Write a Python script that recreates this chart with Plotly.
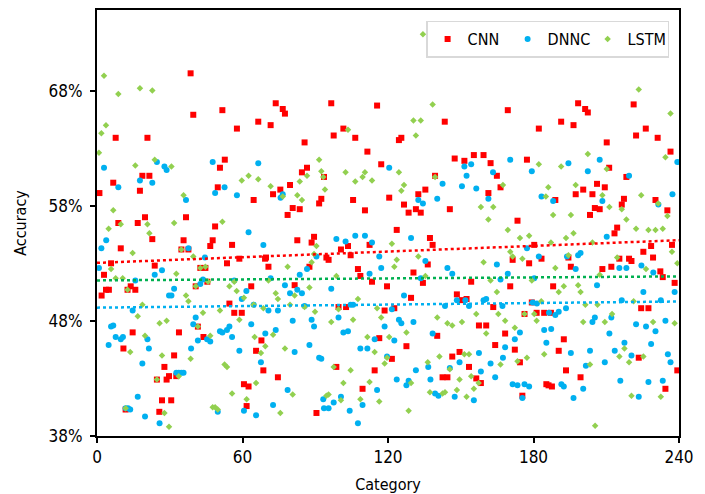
import numpy as np
import plotly.graph_objects as go

# ---- data (x = category, y = accuracy in %) ----
cnn_x = [1, 7.7, 20.8, 18.7, 21.6, 17.7, 6.7, 8.8, 16.8, 19.8, 9.8, 5.8, 2.9, 3.7, 4.9, 1.9, 13.9, 12.6, 15.8, 14.7, 10.9, 11.8,
         38.6, 39.7, 36.7, 22.8, 35.7, 34.8, 37.7, 23.8, 42.6, 40.7, 41.6, 33.8, 43.9, 31.8, 27.8, 29.7, 28.7, 32.7, 24.7, 26.8, 30.6, 25.7, 44.7, 45.5,
         51.7, 57.7, 66.5, 52.7, 50.7, 49.8, 64.6, 48.7, 47.7, 46.7, 55.7, 58.7, 69.3, 53.6, 63.6, 54.6, 56.6, 59.7, 67.8, 65.6, 68.6, 60.6, 62.5, 61.7,
         73.7, 76.6, 77.5, 71.6, 85.6, 86.6, 84.5, 79.6, 75.6, 72.6, 92.5, 91.6, 80.7, 83.6, 78.6, 89.5, 82.6, 88.5, 69.7, 70.7, 87.6, 81.5, 74.6, 90.5,
         96.6, 115.5, 101.6, 97.6, 106.5, 111.5, 117.2, 93.6, 105.6, 110.5, 103.5, 112.4, 100.6, 104.6, 94.6, 95.5, 107.6, 108.6, 113.4, 99.6, 102.7, 116.4, 98.7, 114.5, 109.5,
         124.5, 125.5, 139.4, 135.4, 132.5, 120.5, 126.6, 131.5, 128.5, 133.5, 123.6, 137.3, 138.4, 136.4, 130.5, 134.4, 119.6, 129.5, 118.6, 122.6, 140.3, 127.6, 121.6,
         143.4, 147.5, 151.5, 155.4, 159.4, 162.3, 164.9, 161.4, 145.5, 154.3, 148.4, 150.5, 152.4, 163.4, 157.5, 160.5, 164.2, 149.5, 146.5, 153.4, 156.4, 158.3, 142.5, 144.5,
         169.4, 182.2, 177.3, 166.4, 189.0, 173.4, 180.3, 171.4, 183.3, 178.2, 188.1, 170.4, 179.3, 176.3, 181.3, 184.4, 187.2, 168.3, 172.3, 174.4, 185.3, 186.2, 187.6, 175.4,
         198.4, 201.3, 202.4, 191.4, 196.5, 210.2, 211.2, 206.2, 209.4, 200.5, 197.4, 204.3, 205.3, 207.3, 203.3, 194.4, 195.4, 208.4, 212.1, 192.5, 190.4, 193.4, 199.4,
         221.3, 226.3, 222.3, 231.2, 236.5, 218.3, 217.3, 216.4, 230.3, 235.2, 214.5, 213.4, 237.1, 228.5, 225.3, 229.3, 215.4, 219.4, 220.4, 232.3, 233.3, 238.2, 224.4, 227.4, 223.4, 239.3, 234.4]
cnn_y = [59.1, 63.9, 63.9, 60.6, 60.6, 59.3, 60.0, 56.5, 56.5, 57.0, 54.3, 53.0, 52.0, 50.7, 50.7, 50.2, 51.0, 50.7, 50.7, 47.0, 45.6, 40.3,
         69.5, 65.9, 57.0, 55.1, 55.0, 54.2, 54.2, 52.8, 52.6, 51.0, 47.5, 47.0, 46.6, 45.0, 44.0, 43.2, 42.9, 43.2, 42.9, 41.1, 41.1, 40.1, 52.6, 51.4,
         66.3, 64.7, 65.3, 62.0, 61.3, 59.6, 58.5, 56.2, 55.0, 54.5, 54.6, 53.4, 53.4, 53.0, 51.0, 49.5, 48.7, 48.7, 46.3, 45.4, 43.7, 42.5, 42.3, 40.6,
         66.9, 66.4, 66.0, 65.0, 63.5, 61.3, 60.9, 59.8, 59.4, 59.0, 58.6, 58.2, 57.8, 57.7, 57.2, 55.3, 55.0, 54.8, 53.5, 52.7, 52.7, 51.1, 43.1, 40.0,
         66.9, 66.7, 64.7, 64.1, 63.9, 62.7, 61.6, 60.5, 58.5, 57.6, 54.5, 54.6, 54.2, 53.7, 53.5, 53.3, 52.5, 51.9, 51.4, 49.2, 49.2, 46.5, 44.0, 43.7, 42.1,
         63.7, 63.9, 60.6, 59.4, 59.0, 58.7, 58.1, 57.7, 57.4, 57.4, 55.9, 55.2, 54.6, 52.9, 52.2, 51.3, 51.0, 50.0, 48.9, 49.1, 46.7, 45.8, 44.7,
         65.3, 62.1, 61.9, 62.4, 62.4, 61.7, 60.6, 59.1, 57.7, 51.4, 50.3, 49.8, 49.9, 49.2, 47.6, 47.6, 45.9, 45.3, 44.9, 44.0, 43.0, 42.6, 43.1, 43.1,
         66.3, 64.7, 62.0, 59.6, 58.5, 56.7, 54.6, 53.3, 53.4, 53.0, 51.0, 51.0, 49.6, 48.6, 48.7, 48.7, 48.7, 46.9, 45.5, 44.4, 42.5, 42.4, 42.3, 41.5,
         66.9, 66.4, 66.1, 65.3, 65.0, 63.5, 61.3, 59.9, 59.6, 59.4, 59.0, 59.0, 57.8, 57.7, 57.2, 53.5, 52.7, 52.5, 52.7, 46.4, 45.4, 43.7, 43.1,
         66.8, 64.7, 64.1, 63.9, 62.7, 60.5, 58.6, 58.1, 58.5, 57.6, 56.1, 55.6, 54.6, 54.5, 54.0, 53.5, 53.4, 53.4, 53.2, 52.3, 51.8, 51.3, 49.1, 49.1, 44.8, 43.7, 42.1]

dnnc_x = [2.9, 17.7, 8.8, 3.8, 1.8, 0.8, 15.8, 14.7, 5.8, 6.7, 7.7, 9.8, 10.7, 4.8, 20.8, 21.4, 18.7, 16.8, 19.8, 11.8, 12.8, 13.7,
          24.7, 27.8, 28.7, 22.8, 36.7, 37.7, 44.5, 26.8, 23.8, 43.7, 31.8, 42.6, 29.7, 30.7, 40.7, 39.7, 41.6, 45.4, 38.8, 32.7, 33.7, 34.8, 35.7, 25.8,
          47.7, 66.5, 52.6, 48.7, 57.7, 62.5, 68.6, 56.6, 61.6, 59.7, 64.6, 63.6, 50.7, 51.7, 53.6, 54.6, 55.7, 46.7, 69.4, 58.7, 67.6, 49.8, 60.6, 65.6,
          76.6, 75.7, 90.5, 86.6, 83.6, 71.6, 77.5, 79.6, 82.6, 84.5, 85.6, 70.7, 74.6, 88.5, 80.7, 89.5, 73.7, 87.6, 81.5, 91.6, 92.5, 78.6, 72.6, 93.3,
          98.7, 102.5, 106.5, 110.5, 113.4, 116.4, 117.2, 112.4, 96.6, 105.6, 104.6, 99.6, 101.6, 103.5, 114.5, 108.6, 111.5, 100.6, 97.6, 104.2, 109.5, 115.5, 93.6, 95.5, 107.6,
          120.5, 132.5, 134.4, 140.3, 129.5, 135.4, 133.5, 126.6, 121.6, 124.5, 125.5, 130.5, 118.6, 122.6, 138.4, 119.6, 131.5, 136.6, 123.6, 128.5, 127.6, 137.5, 139.4, 140.8,
          151.5, 154.3, 163.3, 152.4, 142.5, 150.5, 156.4, 161.4, 144.5, 146.5, 164.9, 160.5, 148.4, 153.4, 143.5, 151.9, 159.4, 162.3, 157.5, 149.5, 145.5, 158.3, 164.2, 147.5, 155.4,
          170.4, 179.3, 183.3, 188.1, 177.3, 182.2, 169.4, 166.4, 180.3, 179.7, 181.4, 167.2, 186.4, 189.0, 187.3, 184.4, 174.4, 172.3, 185.3, 168.3, 167.4, 171.4, 173.4, 176.3, 178.2, 175.4,
          194.4, 207.3, 202.4, 208.4, 210.2, 198.4, 199.4, 197.4, 193.8, 206.2, 193.4, 190.4, 205.3, 204.3, 212.1, 211.3, 195.4, 203.3, 201.6, 209.4, 191.5, 192.5, 200.5, 196.5,
          219.4, 239.3, 237.3, 231.5, 224.5, 218.3, 215.4, 229.4, 225.3, 238.2, 216.4, 232.5, 222.3, 226.4, 234.4, 230.3, 217.5, 213.5, 228.5, 235.4, 220.4, 236.5, 215.8, 227.4, 233.3, 223.4]
dnnc_y = [61.3, 60.2, 59.6, 55.0, 54.3, 52.6, 51.5, 48.9, 47.5, 47.6, 46.6, 46.4, 46.6, 45.9, 46.4, 45.6, 44.3, 41.4, 39.7, 40.4, 40.4, 40.3,
          61.8, 61.4, 61.1, 60.0, 58.5, 54.3, 53.5, 52.4, 52.0, 51.6, 50.8, 51.2, 50.2, 50.2, 48.3, 47.7, 46.3, 46.4, 45.6, 43.5, 43.5, 43.5, 43.5, 39.1,
          61.8, 61.7, 59.6, 59.1, 58.9, 55.7, 54.6, 51.5, 50.6, 49.9, 49.4, 47.7, 47.1, 47.0, 47.2, 47.5, 46.6, 46.2, 46.9, 45.4, 44.4, 40.1, 40.2, 39.8,
          59.0, 58.7, 53.6, 52.5, 52.0, 51.7, 51.1, 50.4, 50.7, 50.4, 49.3, 48.9, 48.9, 48.1, 48.0, 47.5, 47.2, 45.9, 45.3, 44.8, 44.7, 42.0, 40.7, 41.2,
          55.1, 54.9, 55.4, 55.4, 54.8, 53.6, 52.6, 52.1, 50.8, 49.4, 49.4, 48.3, 47.0, 47.1, 46.4, 45.6, 45.6, 41.4, 40.9, 40.2, 40.7, 42.0, 40.4, 40.4, 39.1,
          61.3, 58.5, 58.2, 58.6, 55.2, 53.2, 51.7, 50.2, 49.0, 48.1, 47.8, 47.9, 47.5, 46.3, 46.9, 44.9, 43.7, 44.0, 42.9, 42.8, 42.4, 42.9, 41.7, 41.5,
          61.4, 61.6, 60.9, 60.6, 59.9, 59.7, 59.5, 58.6, 52.6, 52.1, 52.9, 49.9, 49.8, 49.3, 49.3, 49.8, 49.8, 44.3, 45.2, 44.4, 43.9, 43.6, 43.1, 41.4, 41.1,
          62.0, 61.0, 58.8, 58.4, 54.3, 53.6, 52.1, 51.6, 51.7, 49.6, 49.5, 49.3, 48.7, 48.5, 47.3, 47.2, 47.0, 46.4, 46.1, 45.7, 44.8, 42.5, 42.4, 42.5, 42.3, 41.3,
          61.7, 62.0, 61.0, 58.4, 55.3, 53.7, 53.9, 52.5, 53.6, 51.1, 49.1, 48.8, 48.3, 47.9, 48.3, 46.9, 45.2, 45.4, 44.1, 44.4, 42.5, 42.3, 42.1, 41.3,
          60.6, 61.8, 59.0, 58.1, 52.8, 52.6, 52.6, 52.2, 50.5, 50.5, 49.8, 49.8, 47.7, 47.5, 48.0, 47.1, 46.1, 45.4, 46.0, 45.1, 45.0, 44.4, 42.8, 42.7, 42.8, 41.4]

lstm_x = [2.9, 17.7, 8.8, 3.7, 1.8, 0.8, 15.8, 6.7, 4.8, 9.8, 20.8, 21.6, 14.7, 5.8, 7.7, 10.6, 12.6, 18.7, 16.8, 19.8, 13.7, 11.8,
          22.8, 23.8, 30.7, 35.7, 31.8, 34.8, 39.7, 42.6, 44.7, 45.8, 32.7, 40.7, 36.7, 37.7, 43.7, 25.8, 28.7, 41.6, 26.8, 38.6, 33.7, 24.7, 27.8, 29.7,
          62.5, 59.7, 66.5, 51.7, 54.6, 56.6, 57.6, 60.6, 64.6, 68.6, 50.7, 58.7, 46.7, 65.0, 69.4, 67.6, 52.6, 53.6, 65.6, 55.7, 61.7, 47.7, 48.7, 49.8,
          91.6, 92.5, 93.3, 86.6, 83.6, 71.6, 94.0, 76.6, 82.6, 84.5, 90.5, 89.5, 88.5, 78.6, 70.7, 73.7, 81.5, 74.6, 87.6, 79.6, 85.6, 89.9, 72.6, 77.5, 80.7, 75.6,
          103.5, 110.5, 102.5, 109.5, 106.5, 113.4, 98.7, 107.6, 99.6, 115.5, 117.2, 96.6, 105.6, 111.5, 114.5, 97.6, 104.6, 112.4, 101.6, 95.5, 94.6, 100.6, 108.6, 116.4,
          134.4, 138.4, 130.5, 133.5, 131.5, 124.5, 126.6, 125.5, 139.4, 121.6, 132.5, 123.6, 122.6, 135.4, 140.3, 127.6, 120.5, 119.6, 118.6, 141.2, 136.4, 129.5, 137.3, 128.5,
          158.3, 163.4, 161.4, 159.4, 162.3, 164.9, 156.4, 144.5, 146.5, 150.5, 160.5, 151.5, 153.4, 145.5, 154.3, 157.4, 155.4, 149.5, 148.4, 142.5, 143.5, 152.4,
          182.2, 186.1, 185.1, 167.4, 188.1, 169.4, 178.2, 174.4, 187.2, 170.4, 171.4, 175.4, 189.0, 179.3, 176.3, 180.3, 165.5, 181.3, 183.2, 168.3, 172.3, 184.4, 177.3, 173.4, 166.4,
          202.4, 210.2, 191.4, 197.4, 208.4, 211.3, 195.4, 196.5, 193.4, 204.3, 194.4, 207.3, 192.5, 198.4, 190.4, 199.4, 201.4, 206.4, 212.4, 200.5, 209.4, 203.3, 205.4,
          223.4, 236.5, 234.4, 224.4, 216.4, 231.4, 235.2, 218.3, 222.3, 227.4, 230.3, 233.3, 237.1, 239.3, 214.5, 226.4, 221.3, 229.3, 238.2, 217.5, 225.3, 215.4, 219.4, 220.4, 232.5]
lstm_y = [69.3, 68.2, 67.7, 65.0, 64.3, 62.6, 61.5, 57.6, 56.0, 56.4, 56.4, 55.6, 53.9, 52.5, 51.7, 51.7, 50.7, 49.4, 48.4, 46.7, 45.3, 40.4,
          68.0, 62.0, 61.4, 58.9, 56.5, 54.2, 53.6, 52.6, 52.7, 51.4, 52.1, 51.0, 50.2, 49.7, 48.7, 47.8, 48.0, 47.5, 45.0, 44.7, 43.2, 42.9, 40.0, 38.8,
          60.6, 60.2, 60.3, 56.6, 51.0, 51.4, 50.6, 50.0, 49.4, 49.1, 48.9, 48.1, 46.7, 46.6, 45.8, 45.2, 44.2, 44.0, 42.6, 41.7, 41.2, 40.5, 40.5, 40.3,
          62.0, 61.0, 60.5, 60.6, 60.1, 59.7, 59.4, 58.8, 58.9, 58.5, 54.5, 53.8, 53.1, 52.7, 51.5, 50.4, 50.2, 49.9, 50.9, 49.4, 49.2, 48.8, 46.8, 45.6, 41.6, 40.0,
          64.6, 60.9, 60.9, 60.5, 60.1, 60.2, 51.9, 49.9, 49.0, 49.1, 48.3, 47.9, 48.1, 46.6, 45.3, 44.0, 43.7, 42.7, 42.6, 41.6, 41.5, 41.1, 41.2, 41.0,
          72.9, 66.8, 65.4, 65.4, 64.1, 60.9, 59.8, 59.3, 60.5, 54.7, 53.6, 53.3, 52.7, 51.9, 48.3, 47.0, 46.6, 44.8, 44.3, 44.9, 44.4, 42.6, 41.8, 40.2,
          57.9, 57.9, 56.8, 53.1, 51.5, 50.5, 48.6, 47.8, 47.6, 47.9, 46.9, 45.1, 45.1, 43.8, 43.2, 42.6, 42.1, 42.9, 42.0, 41.7, 41.8, 41.4,
          61.6, 59.6, 58.8, 59.8, 57.2, 55.9, 55.4, 55.2, 54.8, 54.0, 53.6, 53.4, 52.6, 51.5, 48.6, 48.6, 48.6, 48.0, 49.7, 48.0, 47.4, 45.1, 44.8, 44.5, 44.2,
          62.5, 61.2, 61.4, 59.8, 58.9, 57.9, 57.2, 55.6, 55.2, 54.8, 53.7, 52.0, 51.0, 51.1, 50.5, 50.5, 49.4, 49.4, 48.6, 47.9, 47.9, 44.2, 38.9,
          68.1, 66.0, 62.2, 58.9, 57.7, 58.2, 57.1, 56.8, 56.0, 55.9, 55.9, 56.0, 54.0, 53.0, 53.5, 52.5, 49.7, 47.9, 47.8, 45.6, 44.9, 44.9, 44.4, 41.5, 41.4]

series_names = ["CNN", "DNNC", "LSTM"]
x_ticks = [0, 60, 120, 180, 240]
y_ticks = [38, 48, 58, 68]

FONT = "DejaVu Sans Condensed, DejaVu Sans, sans-serif"
colors = {"CNN": "#FF0000", "DNNC": "#00B0F0", "LSTM": "#92D050"}
trend_colors = {"CNN": "#FF0000", "DNNC": "#00B0F0", "LSTM": "#00B050"}
symbols = {"CNN": "square", "DNNC": "circle", "LSTM": "diamond"}
sizes = {"CNN": 6, "DNNC": 6, "LSTM": 5}

data = {"CNN": (cnn_x, cnn_y), "DNNC": (dnnc_x, dnnc_y), "LSTM": (lstm_x, lstm_y)}

fig = go.Figure()
for name in series_names:
    xs, ys = data[name]
    fig.add_trace(go.Scatter(
        x=xs, y=ys, mode="markers", name=name,
        marker=dict(symbol=symbols[name], size=sizes[name], color=colors[name], line=dict(width=0)),
    ))

# linear trend lines computed from the data
for name in series_names:
    xs, ys = data[name]
    k, b = np.polyfit(np.array(xs), np.array(ys), 1)
    tx = np.array([0, 240])
    fig.add_trace(go.Scatter(
        x=tx, y=k * tx + b, mode="lines", showlegend=False, hoverinfo="skip",
        line=dict(color=trend_colors[name], width=2.5, dash="dot"),
    ))

fig.update_layout(
    width=705, height=494,
    margin=dict(l=97, r=26, t=10, b=58),
    paper_bgcolor="white", plot_bgcolor="white",
    font=dict(family=FONT, size=17, color="black"),
    showlegend=True,
    legend=dict(
        orientation="h", x=0.983, xanchor="right", y=0.975, yanchor="top",
        bgcolor="white", bordercolor="#D9D9D9", borderwidth=1.5,
        font=dict(family=FONT, size=16, color="black"),
        entrywidth=35, itemwidth=30, tracegroupgap=0,
    ),
    xaxis=dict(
        range=[0, 240], tickmode="array", tickvals=x_ticks, ticktext=[str(v) for v in x_ticks],
        showgrid=False, zeroline=False, showline=True, linecolor="black", linewidth=2, mirror=True,
        ticks="outside", ticklen=5, tickwidth=1.5, tickcolor="black", automargin=False,
        tickfont=dict(family=FONT, size=17),
        title=dict(text="Category", font=dict(family=FONT, size=16), standoff=12),
    ),
    yaxis=dict(
        range=[38, 75], tickmode="array", tickvals=y_ticks, ticktext=[f"{v}%" for v in y_ticks],
        showgrid=False, zeroline=False, showline=True, linecolor="black", linewidth=2, mirror=True,
        ticks="outside", ticklen=5, tickwidth=1.5, tickcolor="black", automargin=False,
        tickfont=dict(family=FONT, size=17), ticklabelstandoff=4,
        title=dict(text="Accuracy", font=dict(family=FONT, size=16), standoff=18),
    ),
)

fig.write_html("out.html")
